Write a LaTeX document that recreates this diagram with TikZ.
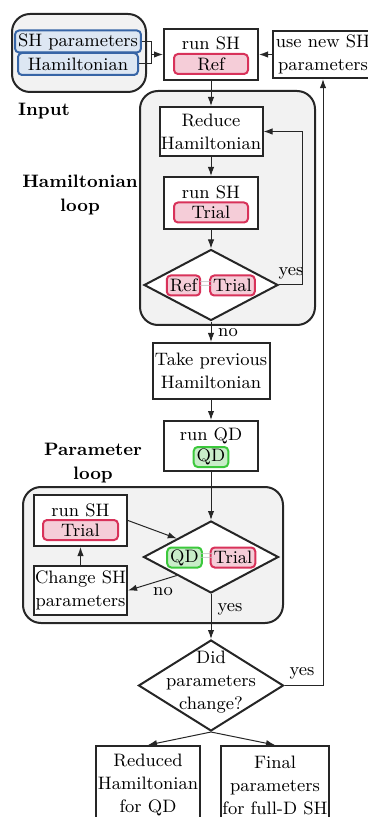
\documentclass[tikz,border=0pt]{standalone}
\usepackage{amsmath}
\usepackage{tikz}
\usetikzlibrary{arrows.meta,positioning,shapes.geometric}
\definecolor{edge}{HTML}{262626}
\definecolor{groupfill}{HTML}{F2F2F2}
\definecolor{refred}{HTML}{D8325A}
\definecolor{refpink}{HTML}{F5CDD8}
\definecolor{inblue}{HTML}{3765A6}
\definecolor{inlight}{HTML}{DDE7F3}
\definecolor{qdgreen}{HTML}{3CC83C}
\definecolor{qdlight}{HTML}{C9EDC9}
\tikzset{
  box/.style={draw=edge,line width=1pt,fill=white,align=center,inner xsep=0.5pt,inner ysep=2pt},
  group/.style={draw=edge,line width=1pt,fill=groupfill,rounded corners=9pt},
  decision/.style={diamond,draw=edge,line width=1pt,fill=white,inner sep=0pt},
  tag/.style={rounded corners=2pt,line width=1pt,inner xsep=1.5pt,inner ysep=0.5pt,minimum height=10pt},
  reftag/.style={tag,draw=refred,fill=refpink},
  intag/.style={tag,draw=inblue,fill=inlight,minimum width=60pt,minimum height=11pt},
  qdtag/.style={tag,draw=qdgreen,fill=qdlight},
  eqsign/.style={text=black!25,inner sep=0pt},
  arrow/.style={-{Latex[length=4.5pt,width=3.2pt]},line width=0.5pt,draw=edge},
  link/.style={line width=0.5pt,draw=edge},
  title/.style={font=\fontsize{9}{12}\selectfont\bfseries,align=center}
}
\begin{document}
\begin{tikzpicture}[x=0.5pt,y=-0.5pt,font=\fontsize{9}{11.5}\selectfont]
\useasboundingbox (0,0) rectangle (368,817);
\node[group,minimum width=67pt,minimum height=39pt](inputgrp) at (79,53){};
\node[group,minimum width=87.5pt,minimum height=117pt](hamgrp) at (227.5,208){};
\node[group,minimum width=130pt,minimum height=68pt](pargrp) at (153,555){};
\node[intag](shpar) at (78,41.5){SH parameters};
\node[intag](ham) at (78,64){Hamiltonian};
\node[title](inputlbl) at (44,111){Input};
\node[title](hamlbl) at (80,195){Hamiltonian\\loop};
\node[title](parlbl) at (93,463){Parameter\\loop};
\node[box,minimum width=47pt,minimum height=25.5pt](runref) at (211,54.5){};
\node(runreftxt) at (211,43){run SH};
\node[reftag,minimum width=37pt](ref) at (211,64){Ref};
\node[box,minimum width=50pt,minimum height=23.5pt](newpar) at (323,54.5){use new SH\\parameters};
\node[box,minimum width=51.5pt,minimum height=24.5pt](reduce) at (211,131.5){Reduce\\Hamiltonian};
\node[box,minimum width=47pt,minimum height=26pt](runtrial) at (211,203){};
\node(runtrialtxt) at (211,192){run SH};
\node[reftag,minimum width=37pt](trial) at (211,212.5){Trial};
\node[decision,minimum width=67pt,minimum height=35.5pt](cmpref) at (211,285){};
\node[reftag](cmpa) at (183.5,285.5){Ref};
\node[reftag](cmpb) at (232.5,285.5){Trial};
\node[eqsign](eqa) at (206,285.5){=};
\node[box,minimum width=58.5pt,minimum height=28pt](takeprev) at (211,371){Take previous\\Hamiltonian};
\node[box,minimum width=47pt,minimum height=25pt](runqd) at (211,446){};
\node(runqdtxt) at (211,436){run QD};
\node[qdtag,minimum width=16pt](qd) at (211,457){QD};
\node[box,minimum width=46.5pt,minimum height=25.5pt](runtrialb) at (80.5,520.5){};
\node(runtrialbtxt) at (80.5,510){run SH};
\node[reftag,minimum width=37.5pt](trialb) at (80.5,530){Trial};
\node[box,minimum width=46.5pt,minimum height=24.5pt](change) at (80.5,590.5){Change SH\\parameters};
\node[decision,minimum width=67.5pt,minimum height=36pt](cmpqd) at (211,557){};
\node[qdtag](cmpc) at (184.5,557.5){QD};
\node[reftag](cmpd) at (233,557.5){Trial};
\node[eqsign](eqb) at (206.5,557.5){=};
\node[decision,minimum width=72.5pt,minimum height=45.5pt](did) at (211,685.5){};
\node[align=center](didtxt) at (211,682){Did\\parameters\\change?};
\node[box,minimum width=52pt,minimum height=39pt](reduced) at (148,785){Reduced\\Hamiltonian\\for QD};
\node[box,minimum width=53pt,minimum height=39pt](final) at (275,785){Final\\parameters\\for full-D SH};
\node(yesa) at (291,273){yes};
\node(noa) at (228,333){no};
\node(nob) at (163,592){no};
\node(yesb) at (230,609){yes};
\node(yesc) at (302,673){yes};
\coordinate(join) at (151,54.5);
\coordinate(hamturn) at (302,131.5);
\draw[link](shpar.east) -| (join);
\draw[link](ham.east) -| (join);
\draw[arrow](join) -- (runref.west);
\draw[arrow](newpar.west) -- (runref.east);
\draw[arrow](runref) -- (reduce);
\draw[arrow](reduce) -- (runtrial);
\draw[arrow](runtrial) -- (cmpref);
\draw[arrow](cmpref.east) -| (hamturn) -- (reduce.east);
\draw[arrow](cmpref) -- (takeprev);
\draw[arrow](takeprev) -- (runqd);
\draw[arrow](runqd) -- (cmpqd);
\draw[arrow](runtrialb.east) -- (cmpqd.north west);
\draw[arrow](cmpqd.south west) -- (change.east);
\draw[arrow](change) -- (runtrialb);
\draw[arrow](cmpqd) -- (did);
\draw[arrow](did.east) -| (newpar.south);
\draw[arrow](did.south) -- (reduced.north);
\draw[arrow](did.south) -- (final.north);
\end{tikzpicture}
\end{document}
